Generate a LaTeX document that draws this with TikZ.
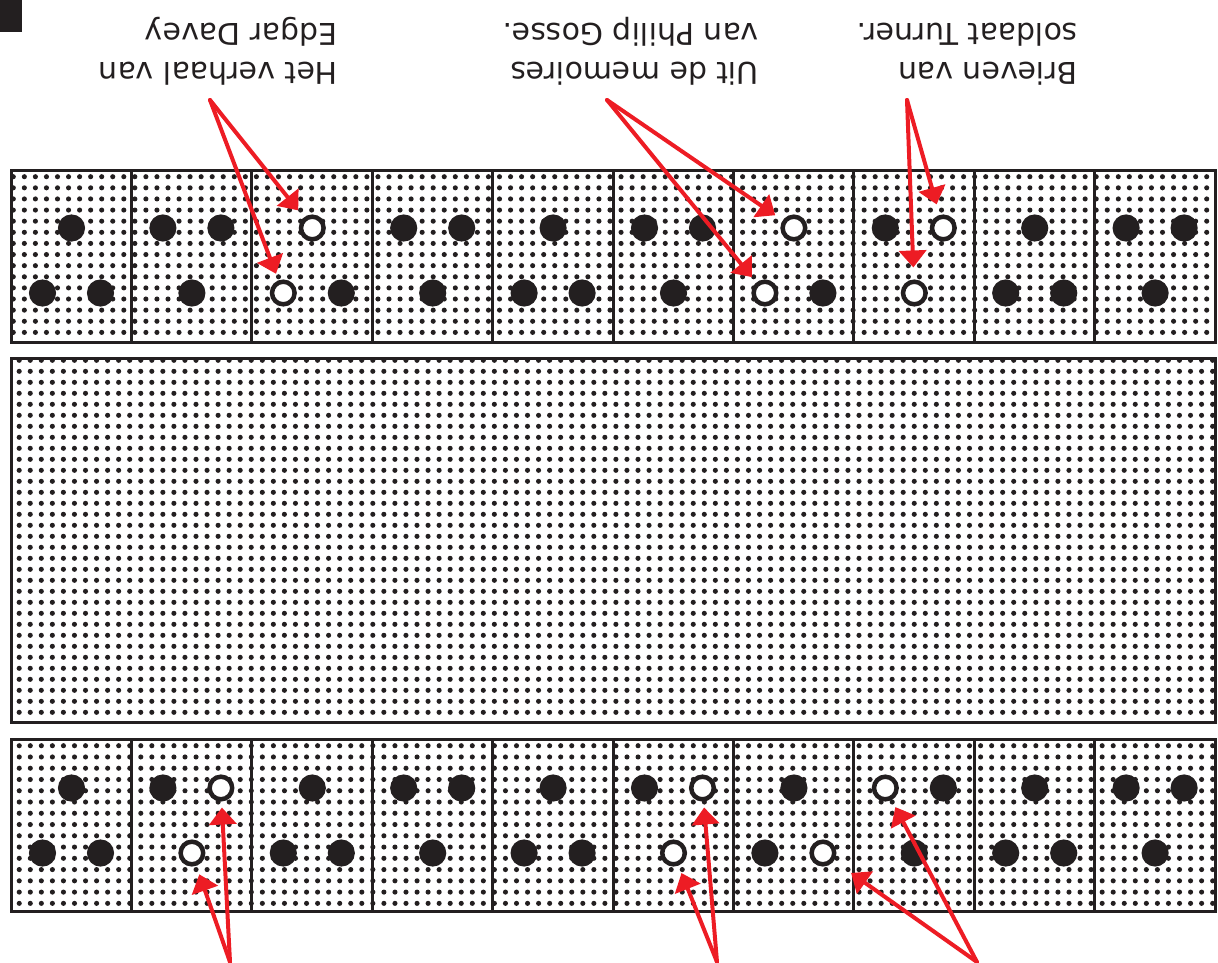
\documentclass[tikz,border=0pt]{standalone}
\usepackage{fontspec}
\newfontfamily\notefont{DejaVu Sans}
\usetikzlibrary{arrows.meta, calc}
\definecolor{ink}{RGB}{35,31,32}
\definecolor{markred}{RGB}{237,28,36}

% one stud in the top row, two in the bottom row
\newcommand{\pinsup}[7]{%
  \node[stud, fill=#5] (#1m1) at ({11+120.4*(#2-1)+60.5}, #3) {};
  \node[stud, fill=#6] (#1l2) at ({11+120.4*(#2-1)+31.5}, #4) {};
  \node[stud, fill=#7] (#1r2) at ({11+120.4*(#2-1)+89.5}, #4) {};}
% two studs in the top row, one in the bottom row
\newcommand{\pinsdown}[7]{%
  \node[stud, fill=#5] (#1l1) at ({11+120.4*(#2-1)+31.5}, #3) {};
  \node[stud, fill=#6] (#1r1) at ({11+120.4*(#2-1)+89.5}, #3) {};
  \node[stud, fill=#7] (#1m2) at ({11+120.4*(#2-1)+60.5}, #4) {};}

\begin{document}
\begin{tikzpicture}[
  x=1pt, y=-1pt,
  stud/.style={circle, draw=ink, line width=4.5pt, minimum size=22.6pt, inner sep=0pt},
  cellframe/.style={draw=ink, line width=3pt},
  pointer/.style={draw=markred, line width=4pt, line cap=round, -{Triangle[length=17pt, width=27pt]}},
  notetext/.style={font=\notefont\fontsize{30}{39}\selectfont, text=ink, align=left, rotate=180, inner sep=0pt, anchor=north west}
]
  \useasboundingbox (0,0) rectangle (1218,962);
  \fill[ink] (0,0) rectangle (22,32);

  % dot grids
  \foreach \ya/\yb/\xo/\yo/\nr/\dy in {170/342/13.3/176.7/14/11.12, 358.5/722/19.2/360.3/32/11.0, 739.5/911.7/8.2/745.7/14/11.26} {
    \begin{scope}
      \clip (11,\ya) rectangle (1215,\yb);
      \foreach \r in {0,...,\nr}
        \fill[ink] \foreach \c in {0,...,109} {({\xo+11.05*\c}, {\yo+\dy*\r}) circle (2.55)};
    \end{scope}
  }

  % frames
  \draw[cellframe] (11,170) rectangle (1215,342);
  \draw[cellframe] (11,358.5) rectangle (1215,722);
  \draw[cellframe] (11,739.5) rectangle (1215,911.7);
  \foreach \i in {1,...,9} {
    \draw[cellframe] ({11+120.4*\i},170) -- ({11+120.4*\i},342);
    \draw[cellframe] ({11+120.4*\i},739.5) -- ({11+120.4*\i},911.7);
  }

  % studs
  \foreach \i/\k/\fa/\fb/\fc in {1/up/ink/ink/ink, 2/down/ink/ink/ink, 3/up/white/white/ink, 4/down/ink/ink/ink, 5/up/ink/ink/ink, 6/down/ink/ink/ink, 7/up/white/white/ink, 8/down/ink/white/white, 9/up/ink/ink/ink, 10/down/ink/ink/ink}
    {\csname pins\k\endcsname{t\i}{\i}{228}{293}{\fa}{\fb}{\fc}}
  \foreach \i/\k/\fa/\fb/\fc in {1/up/ink/ink/ink, 2/down/ink/white/white, 3/up/ink/ink/ink, 4/down/ink/ink/ink, 5/up/ink/ink/ink, 6/down/ink/white/white, 7/up/ink/ink/white, 8/down/white/ink/ink, 9/up/ink/ink/ink, 10/down/ink/ink/ink}
    {\csname pins\k\endcsname{b\i}{\i}{788}{853}{\fa}{\fb}{\fc}}

  % labels
  \node[notetext] (davey) at (338,85) {Het verhaal van\\Edgar Davey};
  \node[notetext] (gosse) at (759,85) {Uit de memoires\\van Philip Gosse.};
  \node[notetext] (turner) at (1078,85) {Brieven van\\soldaat Turner.};

  % arrows
  \coordinate (daveysrc) at (210,100);
  \coordinate (gossesrc) at (607,100);
  \coordinate (turnersrc) at (907,100);
  \coordinate (leftsrc) at (230,962);
  \coordinate (midsrc) at (717,962);
  \coordinate (rightsrc) at (977,962);
  \draw[pointer, shorten >=9pt] (daveysrc) -- (t3m1);
  \draw[pointer, shorten >=7pt] (daveysrc) -- (t3l2);
  \draw[pointer, shorten >=9pt] (gossesrc) -- (t7m1);
  \draw[pointer, shorten >=7pt] (gossesrc) -- (t7l2);
  \draw[pointer, shorten >=11pt] (turnersrc) -- (t8r1);
  \draw[pointer, shorten >=12pt] (turnersrc) -- (t8m2);
  \draw[pointer, shorten >=6pt] (leftsrc) -- (b2r1);
  \draw[pointer, shorten >=9pt] (leftsrc) -- (b2m2);
  \draw[pointer, shorten >=6pt] (midsrc) -- (b6r1);
  \draw[pointer, shorten >=8pt] (midsrc) -- (b6m2);
  \draw[pointer, shorten >=8pt] (rightsrc) -- (b8l1);
  \draw[pointer, shorten >=21pt] (rightsrc) -- (b7r2);
\end{tikzpicture}
\end{document}
